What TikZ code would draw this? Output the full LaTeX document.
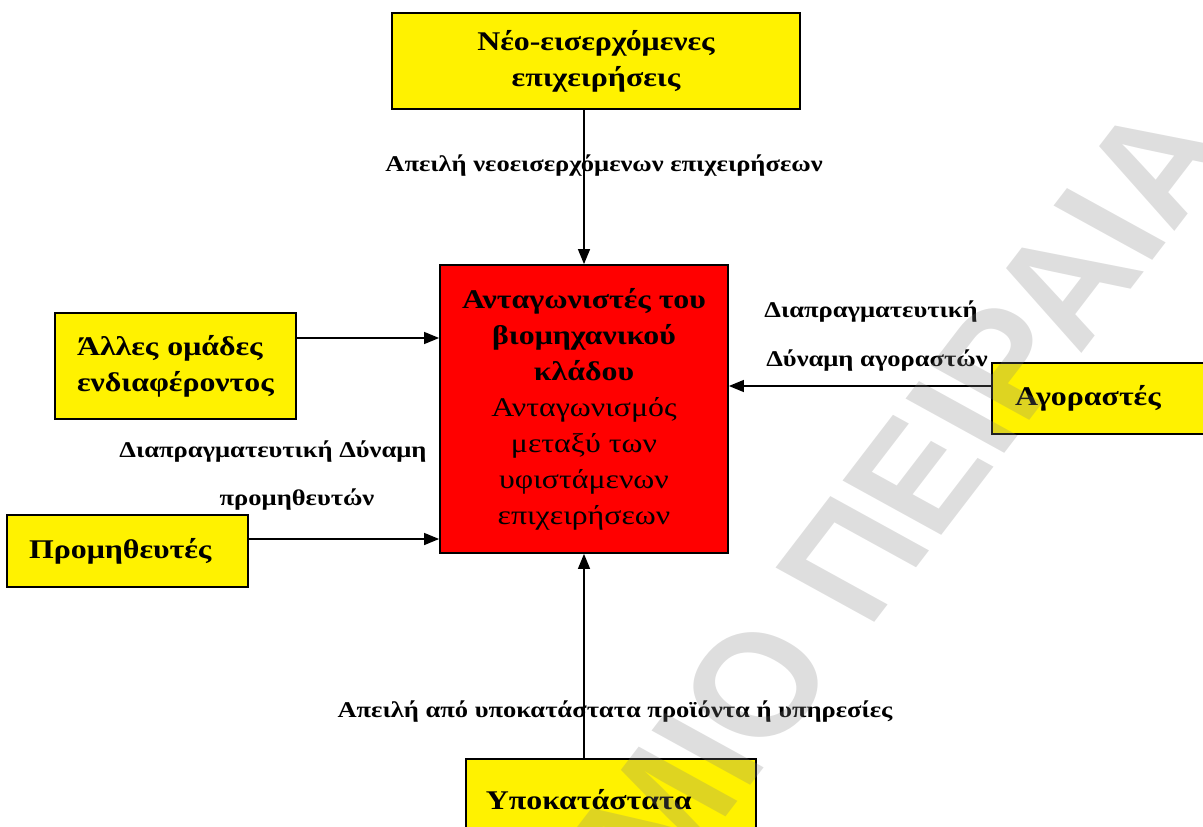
\documentclass[tikz,border=0pt]{standalone}
\usepackage{fontspec}
\setmainfont{Liberation Serif}[FakeStretch=1.18]
\newfontfamily\wmfont{Liberation Sans}
\usetikzlibrary{arrows.meta}

\begin{document}
\begin{tikzpicture}[x=1pt,y=-1pt,
  box/.style={draw=black, line width=1.8pt, fill=yellow, inner sep=0pt,
    font=\bfseries\fontsize{27}{36}\selectfont},
  core/.style={draw=black, line width=1.8pt, fill=red, inner sep=0pt,
    minimum width=288pt, minimum height=288pt, align=center,
    font=\fontsize{27}{36}\selectfont},
  force/.style={line width=1.3pt, -{Triangle[length=15pt,width=12pt]}},
  lbl/.style={font=\bfseries\fontsize{22.5}{26}\selectfont, inner sep=0pt},
  stamp/.style={font=\wmfont\bfseries\fontsize{145}{145}\selectfont, text=gray,
    text opacity=0.26, inner sep=0pt, rotate=57}
]
\useasboundingbox (0,0) rectangle (1203,827);
\clip (0,0) rectangle (1203,827);

% the five forces around the industry
\node[core] (rivals) at (584,409)
  {\textbf{Ανταγωνιστές του}\\\textbf{βιομηχανικού}\\\textbf{κλάδου}\\
   Ανταγωνισμός\\μεταξύ των\\υφιστάμενων\\επιχειρήσεων};

\node[box, minimum width=408pt, minimum height=96pt, align=center] (entrants)
  at (596,61) {Νέο-εισερχόμενες\\επιχειρήσεις};

\node[box, minimum width=241pt, minimum height=106pt, align=left,
  text width=197pt, inner xsep=22pt] (others) at (175.5,366)
  {Άλλες ομάδες\\ενδιαφέροντος};

\node[box, minimum width=241pt, minimum height=72pt, align=left,
  text width=197pt, inner xsep=22pt] (suppliers) at (127.5,551)
  {Προμηθευτές};

\node[box, minimum width=268pt, minimum height=71pt, align=left,
  text width=222pt, inner xsep=23pt] (buyers) at (1126,398.5)
  {Αγοραστές};

\node[box, anchor=north west, minimum width=290pt, minimum height=100pt,
  align=left, text width=250pt, inner xsep=20pt] (substitutes) at (465,758)
  {\raisebox{18pt}{Υποκατάστατα}};

% arrow start points on the box sides
\coordinate (othersOut) at ([yshift=28pt]others.east);
\coordinate (suppliersOut) at ([yshift=12pt]suppliers.east);
\coordinate (buyersOut) at ([yshift=12.5pt]buyers.west);

% connectors
\draw[force] (rivals.north |- entrants.south) -- (rivals.north);
\draw[force] (othersOut) -- (rivals.west |- othersOut);
\draw[force] (suppliersOut) -- (rivals.west |- suppliersOut);
\draw[force] (buyersOut) -- (rivals.east |- buyersOut);
\draw[force] (rivals.south |- substitutes.north) -- (rivals.south);

% connector labels
\node[lbl] (l1) at (604,166) {Απειλή νεοεισερχόμενων επιχειρήσεων};
\node[lbl] (l2) at (273,452) {Διαπραγματευτική Δύναμη};
\node[lbl] (l3) at (297,500) {προμηθευτών};
\node[lbl] (l4) at (871,312) {Διαπραγματευτική};
\node[lbl] (l5) at (877,361) {Δύναμη αγοραστών};
\node[lbl] (l6) at (615,712) {Απειλή από υποκατάστατα προϊόντα ή υπηρεσίες};

% watermark, rotated and then widened like the rest of the page
\begin{scope}[xscale=1.18, transform shape]
  \node[stamp, anchor=base west] (wmRight) at (736,631) {ΠΕΙΡΑΙΑ};
  \node[stamp, anchor=base east] (wmLeft) at (714,665) {ΜΙΟ};
\end{scope}
\end{tikzpicture}
\end{document}
